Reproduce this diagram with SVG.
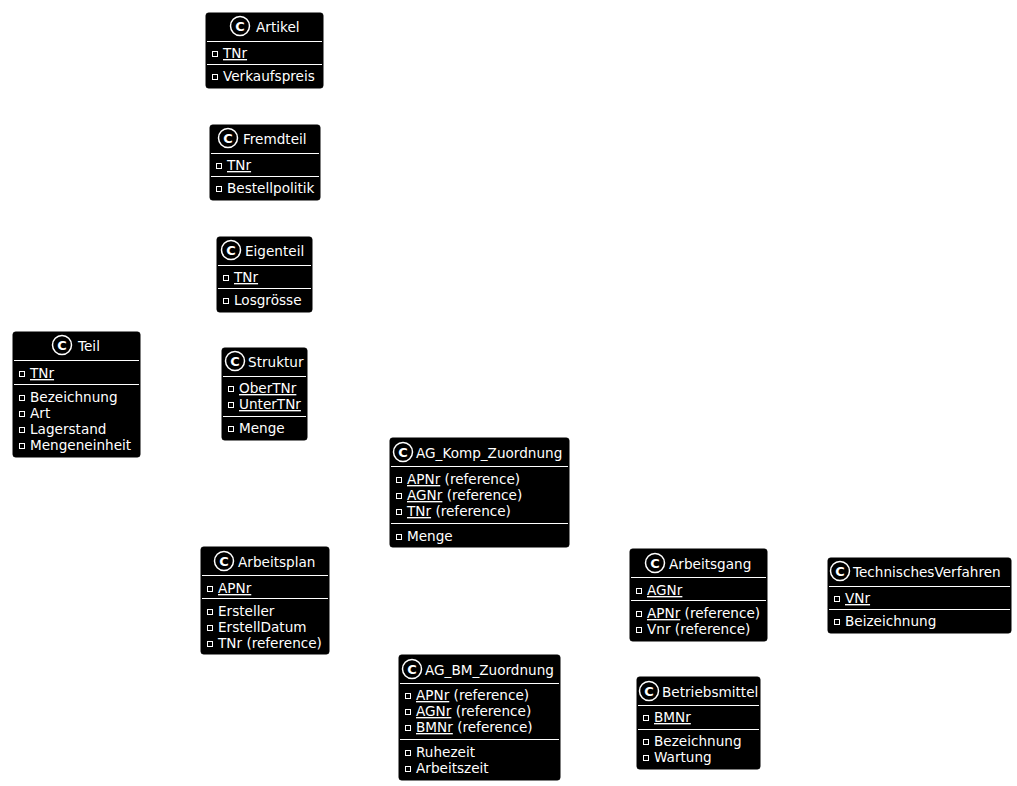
<svg xmlns="http://www.w3.org/2000/svg" width="1017" height="786" viewBox="0 0 1017 786">
<style>
.box{fill:#000;stroke:#000;stroke-width:1}
.div{stroke:#fff;stroke-width:1}
.t{font-family:"DejaVu Sans",sans-serif;font-size:13.6px;fill:#fff}
.ci{fill:#000;stroke:#fff;stroke-width:1.5}
.cl{font-family:"DejaVu Sans",sans-serif;font-size:13px;font-weight:bold;fill:#fff;text-anchor:middle}
.ic{fill:none;stroke:#fff;stroke-width:1}
.u{text-decoration:underline}
</style>
<defs>
<g id="hdr"><circle class="ci" cx="0" cy="0" r="9.5"/><text class="cl" x="0" y="4.6">C</text></g>
<rect id="sq" x="0.5" y="-6.5" width="5" height="5" class="ic"/>
</defs>
<rect width="1017" height="786" fill="#fff"/>
<g id="connectors"/>

<g id="Artikel">
<rect class="box" x="206" y="13" width="117" height="75" rx="2.5"/>
<use href="#hdr" x="240" y="26"/><text class="t" x="256" y="32">Artikel</text>
<line class="div" x1="207" y1="41.5" x2="322" y2="41.5"/>
<use href="#sq" x="212" y="58"/><text class="t" x="223" y="58"><tspan class="u">TNr</tspan></text>
<line class="div" x1="207" y1="64.5" x2="322" y2="64.5"/>
<use href="#sq" x="212" y="81"/><text class="t" x="223" y="81">Verkaufspreis</text>
</g>

<g id="Fremdteil">
<rect class="box" x="210" y="125" width="110" height="75" rx="2.5"/>
<use href="#hdr" x="228" y="138"/><text class="t" x="243" y="144">Fremdteil</text>
<line class="div" x1="211" y1="153.5" x2="319" y2="153.5"/>
<use href="#sq" x="216" y="170"/><text class="t" x="227" y="170"><tspan class="u">TNr</tspan></text>
<line class="div" x1="211" y1="176.5" x2="319" y2="176.5"/>
<use href="#sq" x="216" y="193"/><text class="t" x="227" y="193">Bestellpolitik</text>
</g>

<g id="Eigenteil">
<rect class="box" x="217" y="237" width="95" height="75" rx="2.5"/>
<use href="#hdr" x="231" y="250"/><text class="t" x="245" y="256">Eigenteil</text>
<line class="div" x1="218" y1="265.5" x2="311" y2="265.5"/>
<use href="#sq" x="223" y="282"/><text class="t" x="234" y="282"><tspan class="u">TNr</tspan></text>
<line class="div" x1="218" y1="288.5" x2="311" y2="288.5"/>
<use href="#sq" x="223" y="305"/><text class="t" x="234" y="305">Losgrösse</text>
</g>

<g id="Teil">
<rect class="box" x="13" y="332" width="127" height="125" rx="2.5"/>
<use href="#hdr" x="62" y="345"/><text class="t" x="78" y="351">Teil</text>
<line class="div" x1="14" y1="360.5" x2="139" y2="360.5"/>
<use href="#sq" x="19" y="378"/><text class="t" x="30" y="378"><tspan class="u">TNr</tspan></text>
<line class="div" x1="14" y1="384.5" x2="139" y2="384.5"/>
<use href="#sq" x="19" y="402"/><text class="t" x="30" y="402">Bezeichnung</text>
<use href="#sq" x="19" y="418"/><text class="t" x="30" y="418">Art</text>
<use href="#sq" x="19" y="434"/><text class="t" x="30" y="434">Lagerstand</text>
<use href="#sq" x="19" y="450"/><text class="t" x="30" y="450">Mengeneinheit</text>
</g>

<g id="Struktur">
<rect class="box" x="222" y="348" width="85" height="92" rx="2.5"/>
<use href="#hdr" x="235" y="361"/><text class="t" x="248" y="367">Struktur</text>
<line class="div" x1="223" y1="376.5" x2="306" y2="376.5"/>
<use href="#sq" x="228" y="393"/><text class="t" x="239" y="393"><tspan class="u">OberTNr</tspan></text>
<use href="#sq" x="228" y="409"/><text class="t" x="239" y="409"><tspan class="u">UnterTNr</tspan></text>
<line class="div" x1="223" y1="416.5" x2="306" y2="416.5"/>
<use href="#sq" x="228" y="433"/><text class="t" x="239" y="433">Menge</text>
</g>

<g id="AG_Komp_Zuordnung">
<rect class="box" x="390" y="438" width="179" height="109" rx="2.5"/>
<use href="#hdr" x="403" y="452"/><text class="t" x="416" y="458">AG_Komp_Zuordnung</text>
<line class="div" x1="391" y1="466.5" x2="568" y2="466.5"/>
<use href="#sq" x="396" y="484"/><text class="t" x="407" y="484"><tspan class="u">APNr</tspan> (reference)</text>
<use href="#sq" x="396" y="500"/><text class="t" x="407" y="500"><tspan class="u">AGNr</tspan> (reference)</text>
<use href="#sq" x="396" y="516"/><text class="t" x="407" y="516"><tspan class="u">TNr</tspan> (reference)</text>
<line class="div" x1="391" y1="523.5" x2="568" y2="523.5"/>
<use href="#sq" x="396" y="541"/><text class="t" x="407" y="541">Menge</text>
</g>

<g id="Arbeitsplan">
<rect class="box" x="201" y="547" width="128" height="107" rx="2.5"/>
<use href="#hdr" x="224" y="561"/><text class="t" x="238" y="567">Arbeitsplan</text>
<line class="div" x1="202" y1="575.5" x2="328" y2="575.5"/>
<use href="#sq" x="207" y="593"/><text class="t" x="218" y="593"><tspan class="u">APNr</tspan></text>
<line class="div" x1="202" y1="598.5" x2="328" y2="598.5"/>
<use href="#sq" x="207" y="616"/><text class="t" x="218" y="616">Ersteller</text>
<use href="#sq" x="207" y="632"/><text class="t" x="218" y="632">ErstellDatum</text>
<use href="#sq" x="207" y="648"/><text class="t" x="218" y="648">TNr (reference)</text>
</g>

<g id="Arbeitsgang">
<rect class="box" x="630" y="549" width="137" height="92" rx="2.5"/>
<use href="#hdr" x="655" y="563"/><text class="t" x="669" y="569">Arbeitsgang</text>
<line class="div" x1="631" y1="577.5" x2="766" y2="577.5"/>
<use href="#sq" x="636" y="595"/><text class="t" x="647" y="595"><tspan class="u">AGNr</tspan></text>
<line class="div" x1="631" y1="600.5" x2="766" y2="600.5"/>
<use href="#sq" x="636" y="618"/><text class="t" x="647" y="618"><tspan class="u">APNr</tspan> (reference)</text>
<use href="#sq" x="636" y="634"/><text class="t" x="647" y="634">Vnr (reference)</text>
</g>

<g id="TechnischesVerfahren">
<rect class="box" x="828" y="558" width="183" height="75" rx="2.5"/>
<use href="#hdr" x="840" y="571"/><text class="t" x="853" y="577">TechnischesVerfahren</text>
<line class="div" x1="829" y1="586.5" x2="1010" y2="586.5"/>
<use href="#sq" x="834" y="603"/><text class="t" x="845" y="603"><tspan class="u">VNr</tspan></text>
<line class="div" x1="829" y1="609.5" x2="1010" y2="609.5"/>
<use href="#sq" x="834" y="626"/><text class="t" x="845" y="626">Beizeichnung</text>
</g>

<g id="AG_BM_Zuordnung">
<rect class="box" x="399" y="655" width="161" height="125" rx="2.5"/>
<use href="#hdr" x="412" y="669"/><text class="t" x="425" y="675">AG_BM_Zuordnung</text>
<line class="div" x1="400" y1="683.5" x2="559" y2="683.5"/>
<use href="#sq" x="405" y="700"/><text class="t" x="416" y="700"><tspan class="u">APNr</tspan> (reference)</text>
<use href="#sq" x="405" y="716"/><text class="t" x="416" y="716"><tspan class="u">AGNr</tspan> (reference)</text>
<use href="#sq" x="405" y="732"/><text class="t" x="416" y="732"><tspan class="u">BMNr</tspan> (reference)</text>
<line class="div" x1="400" y1="739.5" x2="559" y2="739.5"/>
<use href="#sq" x="405" y="757"/><text class="t" x="416" y="757">Ruhezeit</text>
<use href="#sq" x="405" y="773"/><text class="t" x="416" y="773">Arbeitszeit</text>
</g>

<g id="Betriebsmittel">
<rect class="box" x="637" y="677" width="123" height="92" rx="2.5"/>
<use href="#hdr" x="649" y="691"/><text class="t" x="662" y="697">Betriebsmittel</text>
<line class="div" x1="638" y1="705.5" x2="759" y2="705.5"/>
<use href="#sq" x="643" y="722"/><text class="t" x="654" y="722"><tspan class="u">BMNr</tspan></text>
<line class="div" x1="638" y1="729.5" x2="759" y2="729.5"/>
<use href="#sq" x="643" y="746"/><text class="t" x="654" y="746">Bezeichnung</text>
<use href="#sq" x="643" y="762"/><text class="t" x="654" y="762">Wartung</text>
</g>
</svg>
